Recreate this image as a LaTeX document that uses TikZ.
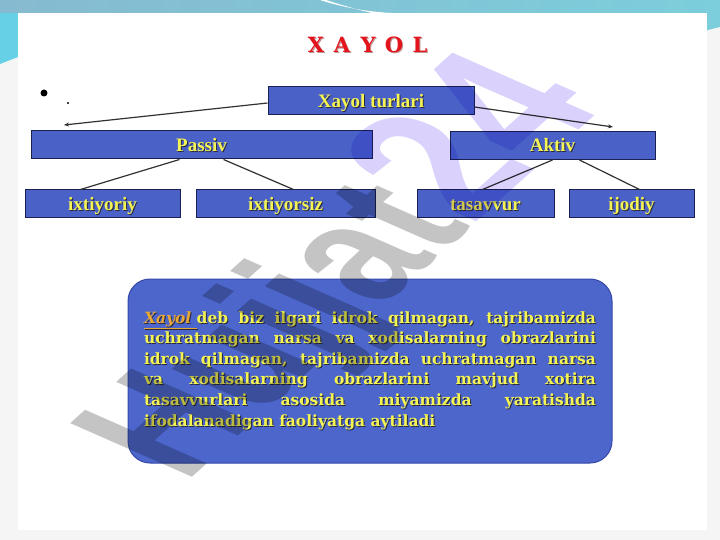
\documentclass[tikz,border=0pt]{standalone}
\usepackage{fontspec}
\usetikzlibrary{arrows.meta}
\newfontfamily\boxfont{Liberation Serif}
\newfontfamily\bodyfont{DejaVu Serif}
\newfontfamily\wmfont{Liberation Sans}
\definecolor{outerbg}{RGB}{245,245,245}
\definecolor{bandleft}{RGB}{134,186,208}
\definecolor{bandright}{RGB}{124,206,220}
\definecolor{sidecyan}{RGB}{102,208,230}
\definecolor{boxblue}{RGB}{74,98,200}
\definecolor{boxline}{RGB}{26,32,80}
\definecolor{infoblue}{RGB}{76,102,204}
\definecolor{infoline}{RGB}{52,72,168}
\definecolor{txtyellow}{RGB}{244,244,84}
\definecolor{txtshadow}{RGB}{40,40,60}
\definecolor{kw}{RGB}{232,168,56}
\definecolor{titlered}{RGB}{228,20,28}
\definecolor{titleshadow}{RGB}{190,150,150}
\definecolor{linkgrey}{RGB}{50,50,50}
\definecolor{wmgrey}{RGB}{196,196,196}
\definecolor{wmlilac}{RGB}{218,210,252}
\newcommand\shadowtext[2]{\rlap{\color{#1}\kern1pt\raisebox{-1pt}{#2}}#2}
\newcommand\bodyline[2][s]{\rlap{\colorlet{kw}{txtshadow}\color{txtshadow}\kern1pt\raisebox{-1pt}{\makebox[452pt][#1]{#2}}}\makebox[452pt][#1]{#2}}
\newcommand\spaced[1]{\makebox[26pt]{#1}}
\tikzset{
	tbox/.style={draw=boxline,fill=boxblue,line width=1pt,minimum width=#1,minimum height=28pt,
		text=txtyellow,font=\boxfont\bfseries\fontsize{19}{19}\selectfont,text height=12.6pt,text depth=0pt,inner sep=0pt},
	infobox/.style={draw=infoline,fill=infoblue,line width=1pt,rounded corners=22pt,minimum width=484pt,
		minimum height=184pt,align=left,text=txtyellow,font=\bodyfont\bfseries\fontsize{15.5}{20.6}\selectfont},
	link/.style={draw=linkgrey,line width=1.2pt},
	watermark/.style={anchor=base west,inner sep=0pt,transform shape,
		font=\wmfont\bfseries\fontsize{150}{150}\selectfont,cm={0.69,0.62,-1.18,0.52,(0,0)}}
}
\begin{document}
\begin{tikzpicture}[x=1pt,y=-1pt]
	\useasboundingbox (0,0) rectangle (720,540);
	\fill[outerbg] (0,0) rectangle (720,540);
	\shade[left color=bandleft,right color=bandright] (0,0) rectangle (720,13);
	\fill[white] (320,0) .. controls (345,8) and (370,12) .. (392,13) -- (372,13) .. controls (355,9) and (338,4) .. (326,0) -- cycle;
	\fill[sidecyan] (0,13) -- (18,13) -- (18,57) -- (0,64) -- cycle;
	\fill[bandright] (704,13) -- (720,13) -- (720,27) -- (704,31) -- cycle;
	\fill[white] (18,13) rectangle (707,530);

	\node[inner sep=0pt,text=titlered,font=\bodyfont\bfseries\fontsize{21}{21}\selectfont] (title) at (368,45.5)
		{\shadowtext{titleshadow}{\spaced{X}\spaced{A}\spaced{Y}\spaced{O}\spaced{L}}};
	\fill (44,93) circle (3.5);
	\fill (68,103) circle (1.2);

	\node[tbox=206pt] (turlari) at (371,101) {\shadowtext{txtshadow}{Xayol turlari}};
	\node[tbox=341pt] (passiv) at (201.5,145) {\shadowtext{txtshadow}{Passiv}};
	\node[tbox=205pt] (aktiv) at (552.5,145.5) {\shadowtext{txtshadow}{Aktiv}};
	\node[tbox=155pt] (ixtiyoriy) at (102.5,204) {\shadowtext{txtshadow}{ixtiyoriy}};
	\node[tbox=179pt] (ixtiyorsiz) at (285.5,204) {\shadowtext{txtshadow}{ixtiyorsiz}};
	\node[tbox=137pt] (tasavvur) at (485.5,204) {\shadowtext{txtshadow}{tasavvur}};
	\node[tbox=125pt] (ijodiy) at (631.5,204) {\shadowtext{txtshadow}{ijodiy}};

	\coordinate (leftend) at (64,125);
	\coordinate (rightend) at (613,127);
	\draw[link,-{Stealth[length=5pt,width=4pt]}] ([yshift=-2pt]turlari.west) -- (leftend);
	\draw[link,-{Stealth[length=5pt,width=4pt]}] ([yshift=-6pt]turlari.east) -- (rightend);
	\draw[link] ([xshift=-22pt]passiv.south) -- ([xshift=-22pt]ixtiyoriy.north);
	\draw[link] ([xshift=22pt]passiv.south) -- ([xshift=8pt]ixtiyorsiz.north);
	\draw[link] (aktiv.south) -- ([xshift=-3pt]tasavvur.north);
	\draw[link] ([xshift=27pt]aktiv.south) -- ([xshift=8pt]ijodiy.north);

	\node[infobox] (tarif) at (370,371) {%
		\bodyline{\textcolor{kw}{\underline{\textit{Xayol}\ }}deb biz ilgari idrok qilmagan, tajribamizda}\\
		\bodyline{uchratmagan narsa va xodisalarning obrazlarini}\\
		\bodyline{idrok qilmagan, tajribamizda uchratmagan narsa}\\
		\bodyline{va xodisalarning obrazlarini mavjud xotira}\\
		\bodyline{tasavvurlari asosida miyamizda yaratishda}\\
		\bodyline[l]{ifodalanadigan faoliyatga aytiladi}};

	\begin{scope}[shift={(185,484)},blend mode=multiply]
		\node[watermark] (wm) at (0,0) {\textcolor{wmgrey}{Hujjat}\textcolor{wmlilac}{\fontsize{175}{175}\selectfont 24}};
	\end{scope}
\end{tikzpicture}
\end{document}
